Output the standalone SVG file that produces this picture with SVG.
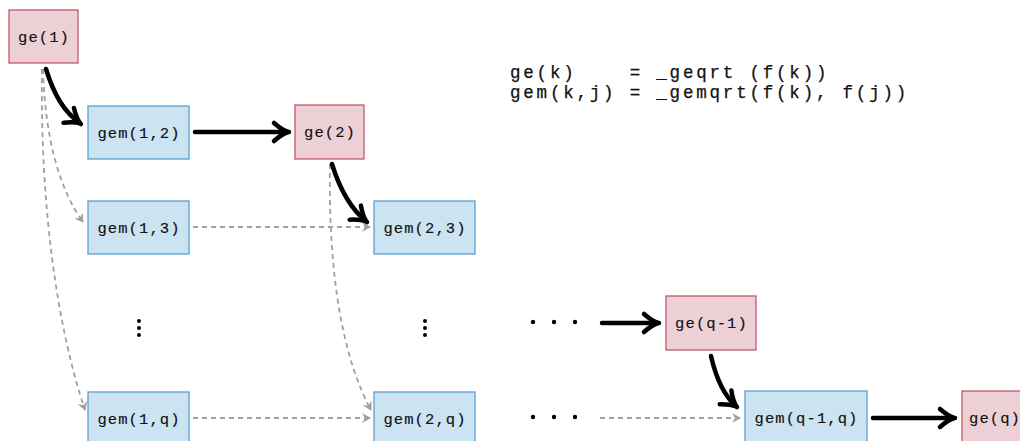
<svg xmlns="http://www.w3.org/2000/svg" width="1020" height="441" viewBox="0 0 1020 441">
  <style>
    .ge rect { fill: #edd0d6; stroke: #c4566b; stroke-width: 1.3; }
    .gem rect { fill: #cce3f1; stroke: #5a9fd6; stroke-width: 1.3; }
    .lbl { font-family: "Liberation Mono", "DejaVu Sans Mono", monospace; font-size: 15.5px; letter-spacing: 1.1px; fill: #111; stroke: #111; stroke-width: 0.15; text-anchor: middle; }
    .legend { font-family: "Liberation Mono", "DejaVu Sans Mono", monospace; font-size: 17.5px; letter-spacing: 2.8px; fill: #111; stroke: #111; stroke-width: 0.25; white-space: pre; }
    .strong { fill: none; stroke: #000; stroke-width: 4.5; stroke-linecap: round; marker-end: url(#headStrong); }
    .weak { fill: none; stroke: #a0a0a0; stroke-width: 1.8; stroke-dasharray: 5 4; marker-end: url(#headWeak); }
    .dot { fill: #000; }
  </style>
  <defs>
    <marker id="headStrong" markerUnits="userSpaceOnUse" markerWidth="30" markerHeight="30" refX="2" refY="0" viewBox="-20 -15 30 30" orient="auto" overflow="visible">
      <path d="M-13,-9 Q-5,-2 1,0 Q-5,2 -13,9" fill="none" stroke="#000" stroke-width="4.5" stroke-linecap="round" stroke-linejoin="round"/>
    </marker>
    <marker id="headWeak" markerUnits="userSpaceOnUse" markerWidth="20" markerHeight="20" refX="0" refY="0" viewBox="-10 -10 20 20" orient="auto" overflow="visible">
      <path d="M1,0 L-8,-5 L-5,0 L-8,5 Z" fill="#a0a0a0"/>
    </marker>
  </defs>

  <!-- dependency edges -->
  <g id="connectors">
    <path class="weak" d="M43,69 C45,140 60,190 83,222"/>
    <path class="weak" d="M42,69 C40,210 58,330 85,410"/>
    <path class="weak" d="M193,227 L370,227"/>
    <path class="weak" d="M330,164 C328,280 344,360 371,410"/>
    <path class="weak" d="M193,418 L370,418"/>
    <path class="weak" d="M600,418 L740,418"/>

    <path class="strong" d="M46,69 C54,95 64,112 81,124"/>
    <path class="strong" d="M195,132 L289,132"/>
    <path class="strong" d="M332,164 C340,190 352,210 367,222"/>
    <path class="strong" d="M602,323 L659,323"/>
    <path class="strong" d="M711,356 C716,378 724,396 737,407"/>
    <path class="strong" d="M873,418 L955,418"/>
  </g>

  <g id="n-ge1" class="ge"><rect x="9" y="10" width="69" height="53"/><text class="lbl" x="44" y="42">ge(1)</text></g>
  <g id="n-gem12" class="gem"><rect x="88" y="106" width="101" height="53"/><text class="lbl" x="139" y="137.5">gem(1,2)</text></g>
  <g id="n-ge2" class="ge"><rect x="295" y="105" width="69" height="54"/><text class="lbl" x="330" y="137">ge(2)</text></g>
  <g id="n-gem13" class="gem"><rect x="88" y="201" width="101" height="53"/><text class="lbl" x="139" y="232.5">gem(1,3)</text></g>
  <g id="n-gem23" class="gem"><rect x="374" y="201" width="101" height="53"/><text class="lbl" x="425" y="232.5">gem(2,3)</text></g>
  <g id="n-gem1q" class="gem"><rect x="88" y="392" width="101" height="53"/><text class="lbl" x="139" y="423.5">gem(1,q)</text></g>
  <g id="n-gem2q" class="gem"><rect x="374" y="392" width="101" height="53"/><text class="lbl" x="425" y="423.5">gem(2,q)</text></g>
  <g id="n-geq1" class="ge"><rect x="666" y="296" width="90" height="54"/><text class="lbl" x="711.5" y="328">ge(q-1)</text></g>
  <g id="n-gemq1q" class="gem"><rect x="745" y="391" width="122" height="54"/><text class="lbl" x="806.5" y="423">gem(q-1,q)</text></g>
  <g id="n-geq" class="ge"><rect x="962" y="391" width="69" height="54"/><text class="lbl" x="995" y="423">ge(q)</text></g>

  <!-- ellipses -->
  <g id="ellipses">
    <circle class="dot" cx="139" cy="321" r="2"/>
    <circle class="dot" cx="139" cy="328" r="2"/>
    <circle class="dot" cx="139" cy="335" r="2"/>
    <circle class="dot" cx="425" cy="321" r="2"/>
    <circle class="dot" cx="425" cy="328" r="2"/>
    <circle class="dot" cx="425" cy="335" r="2"/>
    <circle class="dot" cx="533" cy="322" r="2.2"/>
    <circle class="dot" cx="554" cy="322" r="2.2"/>
    <circle class="dot" cx="575" cy="322" r="2.2"/>
    <circle class="dot" cx="533" cy="417" r="2.2"/>
    <circle class="dot" cx="554" cy="417" r="2.2"/>
    <circle class="dot" cx="575" cy="417" r="2.2"/>
  </g>

  <!-- kernel definitions -->
  <g id="legend">
    <text class="legend" x="510" y="78">ge(k)    = _geqrt (f(k))</text>
    <text class="legend" x="510" y="98">gem(k,j) = _gemqrt(f(k), f(j))</text>
  </g>
</svg>
